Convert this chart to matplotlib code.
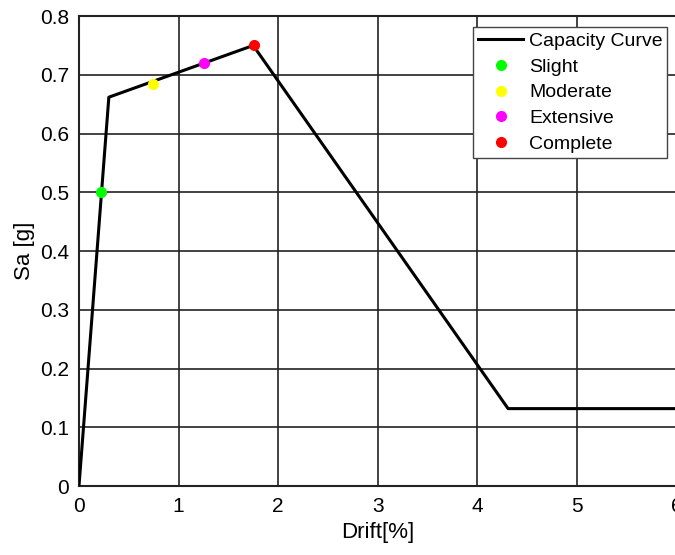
import matplotlib.pyplot as plt

# capacity curve vertices (drift %, Sa g)
drift = [0.0, 0.30, 1.75, 4.31, 6.0]
sa = [0.0, 0.662, 0.750, 0.132, 0.132]

# damage state points
states = ["Slight", "Moderate", "Extensive", "Complete"]
state_drift = [0.22, 0.74, 1.26, 1.76]
state_sa = [0.500, 0.684, 0.720, 0.750]
state_colors = ["#00ff00", "#ffff00", "#ff00ff", "#ff0000"]

plt.rcParams['font.family'] = ['Liberation Sans', 'DejaVu Sans']

fig = plt.figure(figsize=(6.75, 5.55), dpi=100)
ax = fig.add_axes([0.117, 0.124, 0.885, 0.847])

ax.plot(drift, sa, color="black", lw=2.2, label="Capacity Curve", zorder=3)
for name, x, y, c in zip(states, state_drift, state_sa, state_colors):
	ax.plot(x, y, "o", color=c, ms=7, label=name, zorder=4)

ax.set_xlim(0, 6)
ax.set_ylim(0, 0.8)
ax.set_xticks(range(7))
ax.set_yticks([i / 10 for i in range(9)])
ax.set_yticklabels(["0"] + ["%.1f" % (i / 10) for i in range(1, 9)])
ax.grid(True, color="#222222", lw=1.2)
ax.tick_params(labelsize=15, length=0)
ax.tick_params(axis="x", pad=8)
ax.tick_params(axis="y", pad=7)
for s in ax.spines.values():
	s.set_linewidth(1.5)
	s.set_color("#222222")

ax.set_xlabel("Drift[%]", fontsize=16, labelpad=4)
ax.set_ylabel("Sa [g]", fontsize=16, labelpad=4)

leg = ax.legend(loc="upper right", bbox_to_anchor=(0.985, 0.976), fontsize=14,
	fancybox=False, framealpha=1, edgecolor="#444444", borderpad=0.25,
	labelspacing=0.42, handlelength=2.3, handletextpad=0.3, borderaxespad=0)
leg.get_frame().set_linewidth(1.0)

fig.savefig("out.png", dpi=100)
